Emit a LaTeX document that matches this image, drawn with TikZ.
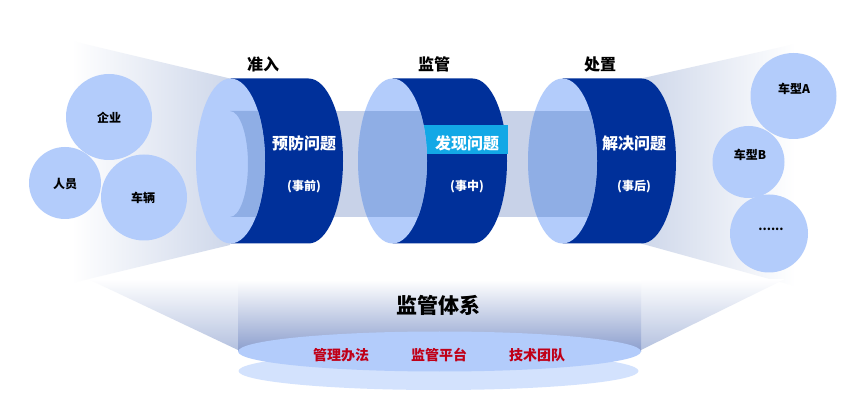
\documentclass[tikz,border=0pt]{standalone}
\usepackage{fontspec}
\setmainfont{Noto Sans CJK SC}
\definecolor{cyl}{HTML}{00309A}
\definecolor{pale}{HTML}{B3CCFB}
\definecolor{overlap}{HTML}{8FAEE5}
\definecolor{band}{HTML}{C8D2E8}
\definecolor{cyan}{HTML}{12A8E6}
\definecolor{redt}{HTML}{C00018}
\definecolor{lower}{HTML}{D3E2FD}
\definecolor{funnel}{HTML}{CED7EA}
\definecolor{wing}{HTML}{B4C1DF}
\definecolor{centre}{HTML}{8A9DCD}
\tikzset{
  lbl/.style={inner sep=0pt,font=\bfseries\fontsize{#1}{#1}\selectfont},
  head/.style={lbl=16,text=black},
  big/.style={lbl=16,text=white},
  small/.style={lbl=12,text=white},
  ball/.style={fill=pale,draw=none},
  balltext/.style={lbl=12,text=black},
  redlabel/.style={lbl=14,text=redt},
}
\newcommand{\cylinder}[2]{%
  \fill[cyl] (#1,78.5) -- (#2,78.5) arc[start angle=90,end angle=-90,x radius=34.5,y radius=-82.5] -- (#1,243.5) -- cycle;
}
\begin{document}
\begin{tikzpicture}[x=1pt,y=-1pt]
\useasboundingbox (0,0) rectangle (865,403);
\fill[white] (0,0) rectangle (865,403);
% funnels
\shade[left color=white,middle color=funnel!42!white,right color=funnel] (72,41) -- (230,78.5) -- (230,245) -- (72,283) -- cycle;
\shade[left color=funnel,middle color=funnel!38!white,right color=white] (641,78.5) -- (795,44) -- (795,286) -- (641,243.5) -- cycle;
% bottom
\shade[top color=white,bottom color=wing] (88,279) -- (238,280) -- (238,350) -- cycle;
\shade[top color=white,bottom color=wing] (785,279) -- (641,280) -- (641,350) -- cycle;
\shade[top color=white,bottom color=centre] (238,280) rectangle (641,352);
\fill[lower] (438.5,371) ellipse[x radius=200,y radius=19];
\fill[pale] (439.5,351.5) ellipse[x radius=201.5,y radius=20];
% band
\fill[band] (230,111) rectangle (570,217);
% cylinders
\cylinder{230.5}{308.5}
\cylinder{392.5}{472.5}
\cylinder{562.5}{641.5}
\fill[cyan] (420,125) rectangle (508,154);
% front ellipses
\fill[pale] (230.5,161) ellipse[x radius=34.5,y radius=82.5];
\fill[pale] (392.5,161) ellipse[x radius=34.5,y radius=82.5];
\fill[pale] (562.5,161) ellipse[x radius=34.5,y radius=82.5];
\begin{scope}
  \clip (230.5,161) ellipse[x radius=34.5,y radius=82.5];
  \fill[overlap] (230,217) arc[start angle=90,end angle=-90,x radius=18,y radius=53] -- (270,111) -- (270,217) -- cycle;
\end{scope}
\begin{scope}
  \clip (392.5,161) ellipse[x radius=34.5,y radius=82.5];
  \fill[overlap] (350,111) rectangle (430,217);
\end{scope}
\begin{scope}
  \clip (562.5,161) ellipse[x radius=34.5,y radius=82.5];
  \fill[overlap] (520,111) rectangle (600,217);
\end{scope}
% circles
\fill[ball] (109,117) circle[radius=43];
\fill[ball] (65,183) circle[radius=36];
\fill[ball] (144,197.5) circle[radius=43];
\fill[ball] (793.5,96) circle[radius=43];
\fill[ball] (748.5,162) circle[radius=36];
\fill[ball] (769,233.5) circle[radius=39];
% text
\node[head] (t1) at (263,64) {准入};
\node[head] (t2) at (434,64) {监管};
\node[head] (t3) at (600,64) {处置};
\node[big] (a1) at (304,143) {预防问题};
\node[big] (a2) at (467,143) {发现问题};
\node[big] (a3) at (634,143) {解决问题};
\node[small] (b1) at (304,186.5) {(事前)};
\node[small] (b2) at (467,186.5) {(事中)};
\node[small] (b3) at (634,186.5) {(事后)};
\node[balltext] (c1) at (109,118) {企业};
\node[balltext] (c2) at (65,184) {人员};
\node[balltext] (c3) at (143,198) {车辆};
\node[balltext] (d1) at (794,88.5) {车型A};
\node[balltext] (d2) at (750,155) {车型B};
\node[balltext] (d3) at (771,229) {......};
\node[lbl=21,text=black] (s) at (438,305) {监管体系};
\node[redlabel] (r1) at (341,355) {管理办法};
\node[redlabel] (r2) at (439,355) {监管平台};
\node[redlabel] (r3) at (537,355) {技术团队};
\end{tikzpicture}
\end{document}
